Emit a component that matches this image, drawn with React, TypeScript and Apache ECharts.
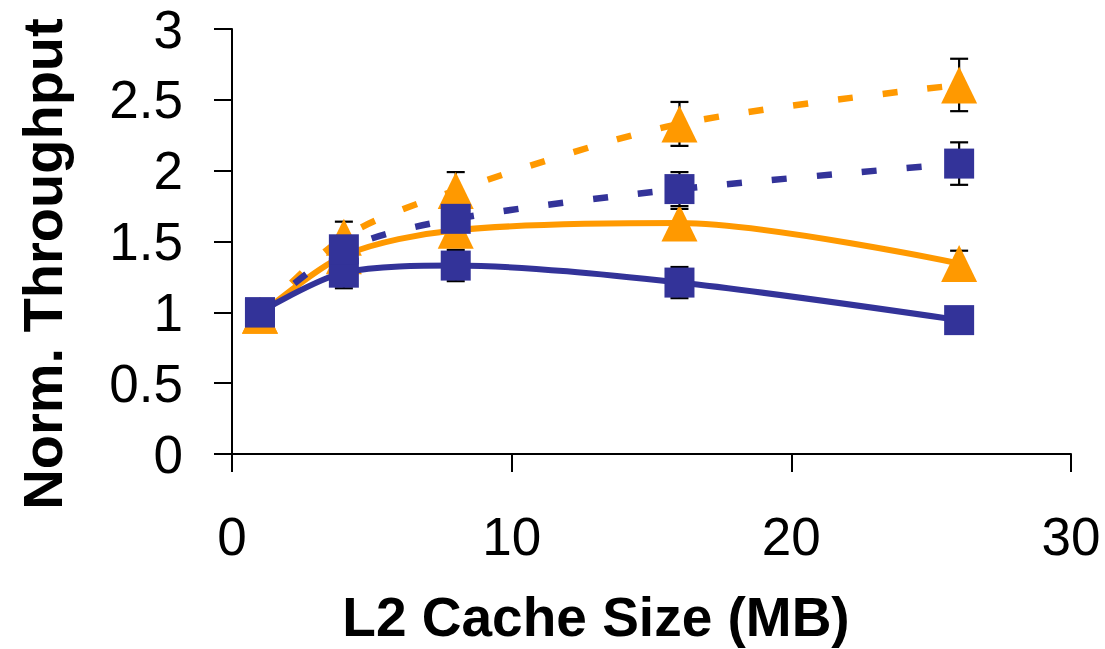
import React, { useEffect, useRef } from "react";
import * as echarts from "echarts";

// L2 cache sizes (MB)
const cacheSizes = [1, 4, 8, 16, 26];

// Normalized throughput values
const orangeSolid = [0.98, 1.4, 1.58, 1.63, 1.345];
const orangeDashed = [0.98, 1.53, 1.86, 2.33, 2.605];
const blueSolid = [1.0, 1.28, 1.33, 1.21, 0.945];
const blueDashed = [1.0, 1.445, 1.66, 1.87, 2.05];

// Symmetric error amounts
const orangeSolidErr = [0.05, 0.08, 0.08, 0.1, 0.09];
const orangeDashedErr = [0.05, 0.11, 0.13, 0.155, 0.185];
const blueSolidErr = [0.05, 0.11, 0.11, 0.11, 0.05];
const blueDashedErr = [0.05, 0.08, 0.08, 0.12, 0.15];

const xTicks = [0, 10, 20, 30];
const yTicks = [0, 0.5, 1, 1.5, 2, 2.5, 3];

const xTitle = "L2 Cache Size (MB)";
const yTitle = "Norm. Throughput";

const ORANGE = "#FF9900";
const BLUE = "#333399";
const FONT = "'Liberation Sans', Arial, sans-serif";

function errData(vals: number[], errs: number[]) {
  return cacheSizes.map((x, i) => [x, vals[i] - errs[i], vals[i] + errs[i]]);
}

function errorSeries(name: string, vals: number[], errs: number[], z: number) {
  return {
    type: "custom",
    name: name + " error",
    z,
    silent: true,
    data: errData(vals, errs),
    encode: { x: 0, y: [1, 2] },
    renderItem: (params: any, api: any) => {
      const x = api.value(0);
      const lo = api.coord([x, api.value(1)]);
      const hi = api.coord([x, api.value(2)]);
      const w = 9;
      const style = { stroke: "#000", lineWidth: 2.2 };
      return {
        type: "group",
        children: [
          { type: "line", shape: { x1: lo[0], y1: lo[1], x2: hi[0], y2: hi[1] }, style },
          { type: "line", shape: { x1: lo[0] - w, y1: lo[1], x2: lo[0] + w, y2: lo[1] }, style },
          { type: "line", shape: { x1: hi[0] - w, y1: hi[1], x2: hi[0] + w, y2: hi[1] }, style },
        ],
      };
    },
  };
}

function lineSeries(
  name: string,
  vals: number[],
  color: string,
  dashed: boolean,
  symbol: string,
  symbolSize: any,
  z: number
) {
  return {
    type: "line",
    name,
    z,
    data: cacheSizes.map((x, i) => [x, vals[i]]),
    smooth: 0.3,
    symbol,
    symbolSize,
    itemStyle: { color, borderWidth: 0 },
    lineStyle: {
      color,
      width: dashed ? 6.5 : 6,
      type: dashed ? [15, 30] : "solid",
      cap: "butt",
    },
  };
}

export default function App() {
  const ref = useRef<HTMLDivElement>(null);

  useEffect(() => {
    if (!ref.current) return;
    const chart = echarts.init(ref.current, undefined, { renderer: "svg" });
    const tri = [36, 37];
    const sq = 30;
    chart.setOption({
      animation: false,
      backgroundColor: "#fff",
      grid: { left: 232, right: 34, top: 29, bottom: 195, containLabel: false },
      xAxis: {
        type: "value",
        min: xTicks[0],
        max: xTicks[xTicks.length - 1],
        interval: 10,
        axisLine: { show: true, onZero: false, lineStyle: { color: "#000", width: 2 } },
        axisTick: { show: true, inside: false, length: 18, lineStyle: { color: "#000", width: 2 } },
        axisLabel: { fontSize: 53, color: "#000", fontFamily: FONT, margin: 56 },
        splitLine: { show: false },
      },
      yAxis: {
        type: "value",
        min: yTicks[0],
        max: yTicks[yTicks.length - 1],
        interval: 0.5,
        axisLine: { show: true, onZero: false, lineStyle: { color: "#000", width: 2 } },
        axisTick: { show: true, inside: false, length: 18, lineStyle: { color: "#000", width: 2 } },
        axisLabel: { fontSize: 53, color: "#000", fontFamily: FONT, margin: 49 },
        splitLine: { show: false },
      },
      graphic: [
        {
          type: "text",
          x: 596,
          y: 617,
          style: {
            text: xTitle,
            font: `bold 55px ${FONT}`,
            fill: "#000",
            textAlign: "center",
            textVerticalAlign: "middle",
          },
        },
        {
          type: "text",
          x: 42,
          y: 264,
          rotation: Math.PI / 2,
          style: {
            text: yTitle,
            font: `bold 56px ${FONT}`,
            fill: "#000",
            textAlign: "center",
            textVerticalAlign: "middle",
          },
        },
      ],
      series: [
        errorSeries("Orange solid", orangeSolid, orangeSolidErr, 1),
        lineSeries("Orange solid", orangeSolid, ORANGE, false, "triangle", tri, 2),
        errorSeries("Orange dashed", orangeDashed, orangeDashedErr, 3),
        lineSeries("Orange dashed", orangeDashed, ORANGE, true, "triangle", tri, 4),
        errorSeries("Blue solid", blueSolid, blueSolidErr, 5),
        lineSeries("Blue solid", blueSolid, BLUE, false, "rect", sq, 6),
        errorSeries("Blue dashed", blueDashed, blueDashedErr, 7),
        lineSeries("Blue dashed", blueDashed, BLUE, true, "rect", sq, 8),
      ],
    });
    return () => chart.dispose();
  }, []);

  return (
    <div
      ref={ref}
      style={{ position: "absolute", left: 0, top: 0, width: 1105, height: 649 }}
    />
  );
}
